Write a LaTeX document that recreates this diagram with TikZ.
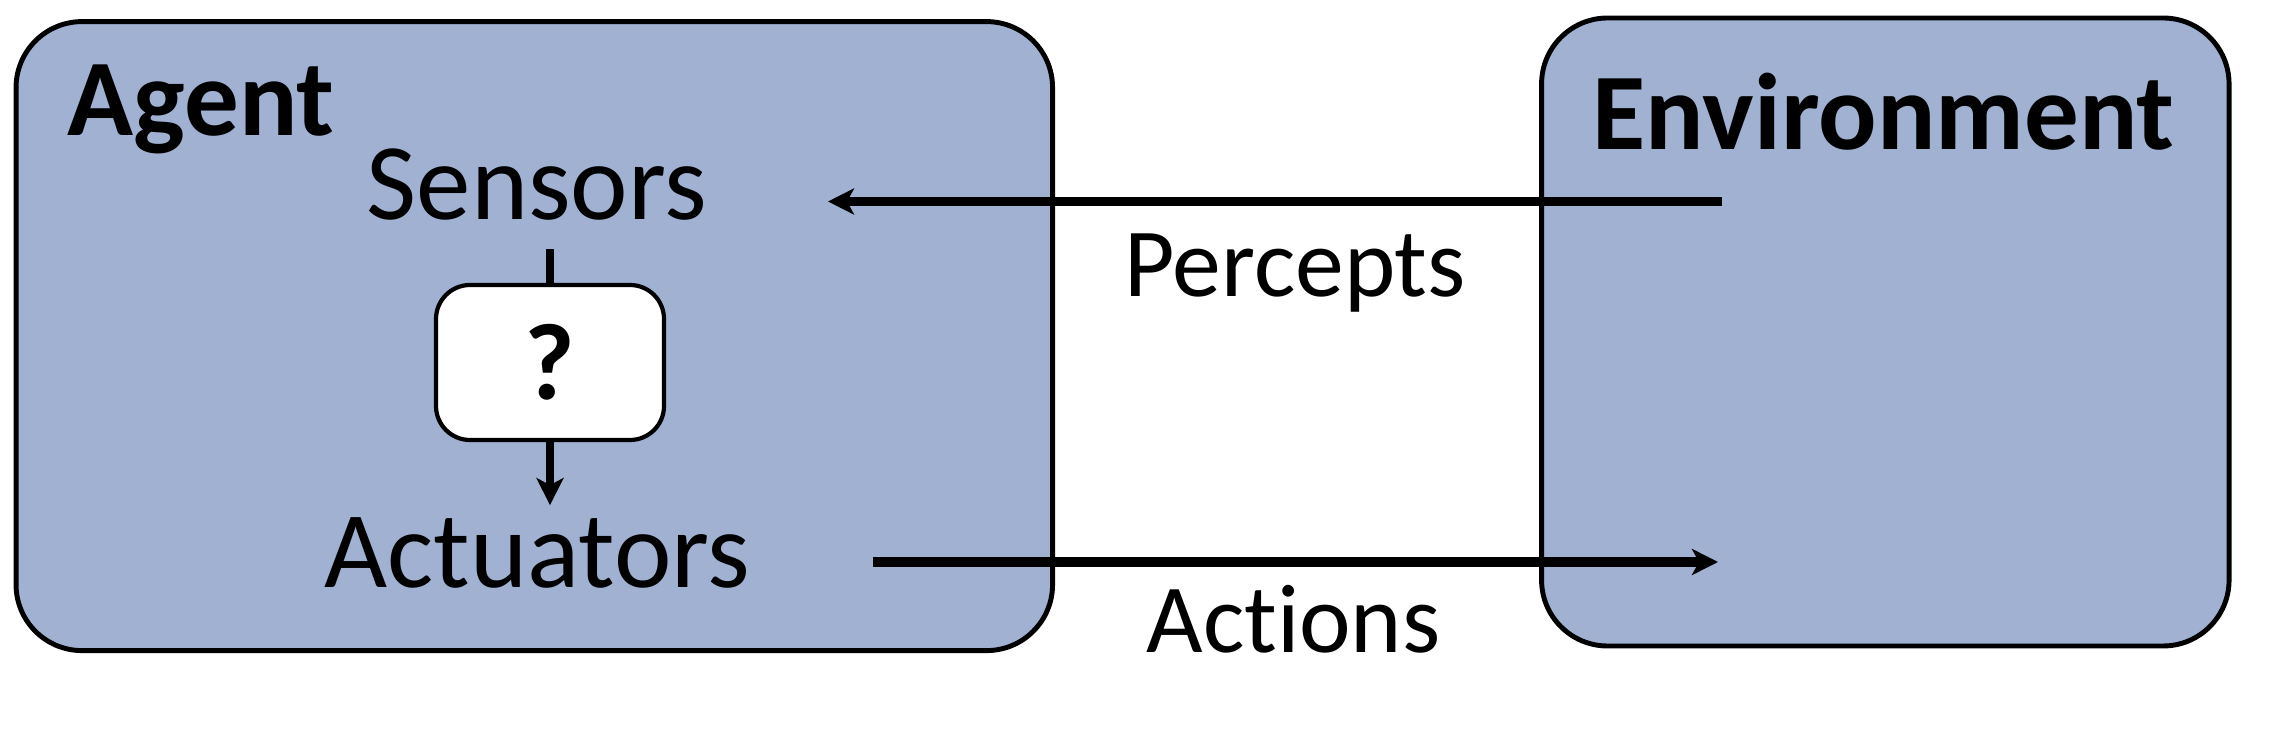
\documentclass[tikz,border=0pt]{standalone}
\usepackage{fontspec}
\setmainfont{Carlito}[Ligatures=NoCommon]
\usetikzlibrary{calc,shapes,positioning}
\usetikzlibrary{arrows.meta}
\definecolor{boxblue}{RGB}{160,177,209}

\begin{document}
\begin{tikzpicture}
    \tikzstyle{bignode} = [draw, line width=1.4pt, fill=boxblue, rectangle, rounded corners = 0.66cm, inner sep = 0pt]
    \tikzstyle{qnode} = [draw, line width=1.2pt, fill=white, rectangle, rounded corners = 0.34cm, minimum width = 2.28cm, minimum height = 1.55cm, inner sep = 0pt]
    \tikzstyle{tnode} = [inner sep = 0.28cm, font=\fontsize{31}{37}\selectfont]
    \tikzstyle{lnode} = [inner sep = 0pt, font=\fontsize{27.8}{33}\selectfont]
    \tikzstyle{flow} = [line width=2.6pt, -{Stealth[length=0.26cm, width=0.26cm, inset=0.07cm]}]
    \useasboundingbox (0,0) rectangle (22.73,7.39);
    \node[bignode, minimum width = 10.365cm, minimum height = 6.29cm] (agent) at (5.343,4.029) {};
    \node[bignode, minimum width = 6.875cm, minimum height = 6.28cm] (env) at (18.853,4.07) {};
    \node[tnode, anchor=base west, inner sep=0pt, font=\fontsize{31}{37}\selectfont\bfseries] (agentlbl) at (0.67,6.03) {Agent};
    \node[tnode, anchor=base west, inner sep=0pt, font=\fontsize{31}{37}\selectfont\bfseries] (envlbl) at (15.92,5.89) {Environment};
    \node[tnode, anchor=base] (sensors) at (5.37,5.19) {Sensors};
    \node[tnode, anchor=base] (actuators) at (5.375,1.515) {Actuators};
    \node[qnode, font=\fontsize{31}{37}\selectfont\bfseries] (q) at (5.50,3.765) {?};
    \node[lnode, anchor=base] (percepts) at (12.95,4.42) {Percepts};
    \node[lnode, anchor=base] (actions) at (12.935,0.863) {Actions};
    \coordinate (qtip) at ($(q.south)+(0,-0.63)$);
    \coordinate (pstart) at (17.22,5.375);
    \coordinate (pend) at (8.28,5.375);
    \coordinate (astart) at (8.73,1.77);
    \coordinate (aend) at (17.18,1.77);
    \draw[line width=2.3pt] (sensors.south -| q.north) -- (q.north);
    \draw[line width=2.3pt, -{Stealth[length=0.27cm, width=0.27cm, inset=0.07cm]}] (q.south) -- (qtip);
    \draw[flow] (pstart) -- (pend);
    \draw[flow] (astart) -- (aend);
\end{tikzpicture}
\end{document}
